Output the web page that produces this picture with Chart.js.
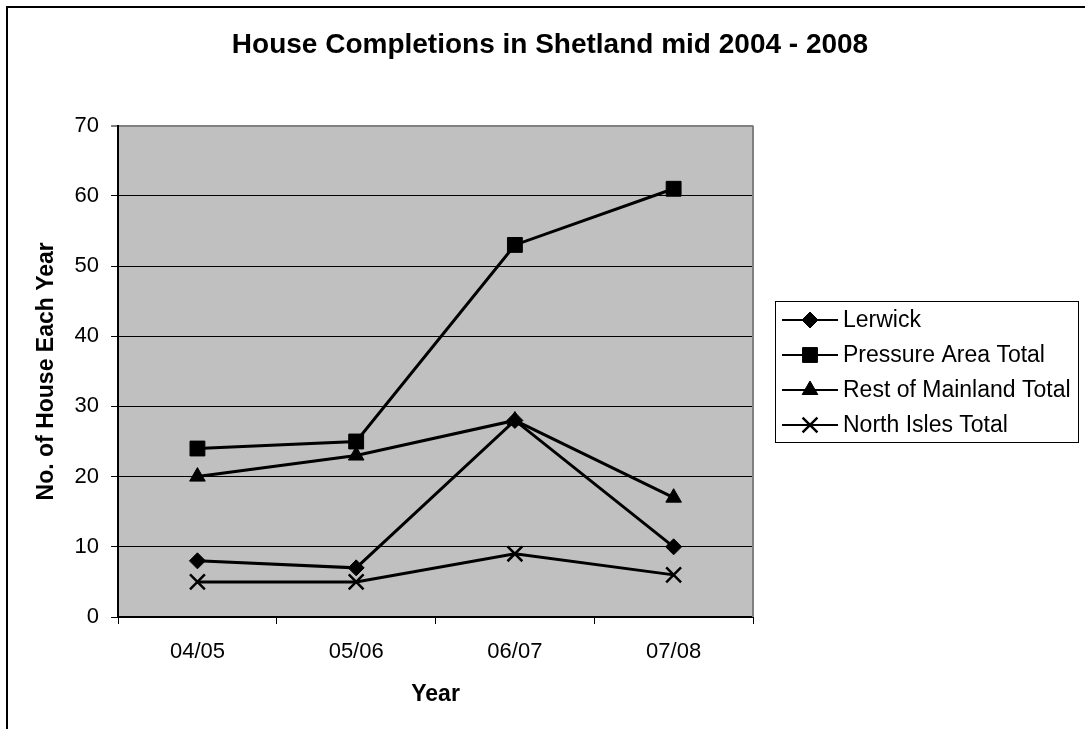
<!DOCTYPE html>
<html lang="en">
  <head>
    <meta charset="UTF-8" />
    <title>House Completions in Shetland</title>
    <script src="https://cdn.jsdelivr.net/npm/chart.js@4.4.1/dist/chart.umd.min.js"></script>
    <style>
      html,
      body {
        margin: 0;
        padding: 0;
        background: white;
      }
      canvas {
        display: block;
      }
    </style>
  </head>
  <body>
    <canvas id="chart" width="1085" height="729"></canvas>
    <script>
      const years = ["04/05", "05/06", "06/07", "07/08"];
      const lerwick = [8, 7, 28, 10];
      const pressureArea = [24, 25, 53, 61];
      const restOfMainland = [20, 23, 28, 17];
      const northIsles = [5, 5, 9, 6];

      const FONT = "'Liberation Sans', Arial, Helvetica, sans-serif";

      // grey plot area + the chart frame (only top and left edge show)
      const plotBackground = {
        id: "plotBackground",
        beforeDraw(chart) {
          const { ctx, chartArea: a } = chart;
          ctx.save();
          ctx.fillStyle = "#C0C0C0";
          ctx.fillRect(a.left, a.top, a.width, a.height);
          ctx.strokeStyle = "#000";
          ctx.lineWidth = 2;
          ctx.beginPath();
          ctx.moveTo(7, chart.height);
          ctx.lineTo(7, 7);
          ctx.lineTo(chart.width, 7);
          ctx.stroke();
          ctx.restore();
        },
        beforeDatasetsDraw(chart) {
          const { ctx, chartArea: a } = chart;
          ctx.save();
          ctx.strokeStyle = "#808080";
          ctx.lineWidth = 2;
          ctx.beginPath();
          ctx.moveTo(a.right, a.top);
          ctx.lineTo(a.right, a.bottom);
          ctx.stroke();
          ctx.restore();
        },
      };

      function drawLegend(chart, box) {
        const ctx = chart.ctx;
        const w = 303;
        const h = 141;
        const x0 = Math.round(box.left + 22);
        const y0 = Math.round(box.top + (box.height - h) / 2);
        ctx.save();
        ctx.strokeStyle = "#000";
        ctx.fillStyle = "#000";
        ctx.lineWidth = 1;
        ctx.strokeRect(x0 + 0.5, y0 + 0.5, w, h);
        ctx.font = "23px " + FONT;
        ctx.textBaseline = "middle";
        ctx.textAlign = "left";
        chart.data.datasets.forEach((ds, i) => {
          const y = y0 + 19 + i * 35;
          ctx.lineWidth = 2;
          ctx.beginPath();
          ctx.moveTo(x0 + 7, y);
          ctx.lineTo(x0 + 63, y);
          ctx.stroke();
          ctx.lineWidth = ds.pointBorderWidth;
          Chart.helpers.drawPoint(
            ctx,
            {
              pointStyle: ds.pointStyle,
              radius: ds.pointRadius,
              borderWidth: ds.pointBorderWidth,
              rotation: 0,
            },
            x0 + 35,
            y
          );
          ctx.fillText(ds.label, x0 + 68, y + 1);
        });
        ctx.restore();
      }

      // legend lives in its own layout box on the right
      const sideLegend = {
        id: "sideLegend",
        start(chart) {
          Chart.layouts.addBox(chart, {
            position: "right",
            weight: 1000,
            fullSize: false,
            options: {},
            width: 0,
            height: 0,
            isHorizontal() {
              return false;
            },
            update(maxWidth, maxHeight) {
              this.width = 332;
              this.height = maxHeight;
            },
            draw() {
              drawLegend(chart, this);
            },
          });
        },
      };

      const series = (label, data, style, radius, bw) => ({
        label: label,
        data: data,
        borderColor: "#000",
        backgroundColor: "#000",
        borderWidth: 3,
        tension: 0,
        pointStyle: style,
        pointRadius: radius,
        pointHoverRadius: radius,
        pointBorderWidth: bw,
        pointBackgroundColor: "#000",
        pointBorderColor: "#000",
      });

      const chart = new Chart(document.getElementById("chart"), {
        type: "line",
        data: {
          labels: years,
          datasets: [
            series("Lerwick", lerwick, "rectRot", 8, 1),
            series("Pressure Area Total", pressureArea, "rect", 10.5, 1),
            series("Rest of Mainland Total", restOfMainland, "triangle", 9, 1),
            series("North Isles Total", northIsles, "crossRot", 10.5, 2.5),
          ],
        },
        options: {
          responsive: false,
          animation: false,
          layout: { padding: { left: 15, right: 0, top: 0, bottom: 0 } },
          plugins: {
            legend: { display: false },
            tooltip: { enabled: false },
            title: {
              display: true,
              text: "House Completions in Shetland mid 2004 - 2008",
              color: "#000",
              font: { family: FONT, size: 28, weight: "bold" },
              padding: { top: 28, bottom: 64 },
            },
          },
          scales: {
            x: {
              offset: true,
              grid: {
                offset: true,
                drawOnChartArea: false,
                drawTicks: true,
                tickLength: 7,
                tickColor: "#000",
                tickWidth: 1,
              },
              border: { color: "#000", width: 2 },
              ticks: {
                color: "#000",
                font: { family: FONT, size: 22 },
                padding: 15,
              },
              title: {
                display: true,
                text: "Year",
                color: "#000",
                font: { family: FONT, size: 23, weight: "bold" },
                padding: { top: 0, bottom: 21 },
              },
            },
            y: {
              min: 0,
              max: 70,
              ticks: {
                stepSize: 10,
                color: "#000",
                font: { family: FONT, size: 22 },
                padding: 12,
              },
              grid: {
                color: (c) => (c.tick && c.tick.value === 70 ? "#808080" : "#000"),
                lineWidth: (c) => (c.tick && c.tick.value === 70 ? 2 : 1),
                tickLength: 7,
                tickColor: "#000",
                tickWidth: 1,
              },
              border: { color: "#000", width: 2 },
              title: {
                display: true,
                text: "No. of House Each Year",
                color: "#000",
                font: { family: FONT, size: 23, weight: "bold" },
                padding: { top: 18, bottom: 2 },
              },
            },
          },
        },
        plugins: [plotBackground, sideLegend],
      });
    </script>
  </body>
</html>
